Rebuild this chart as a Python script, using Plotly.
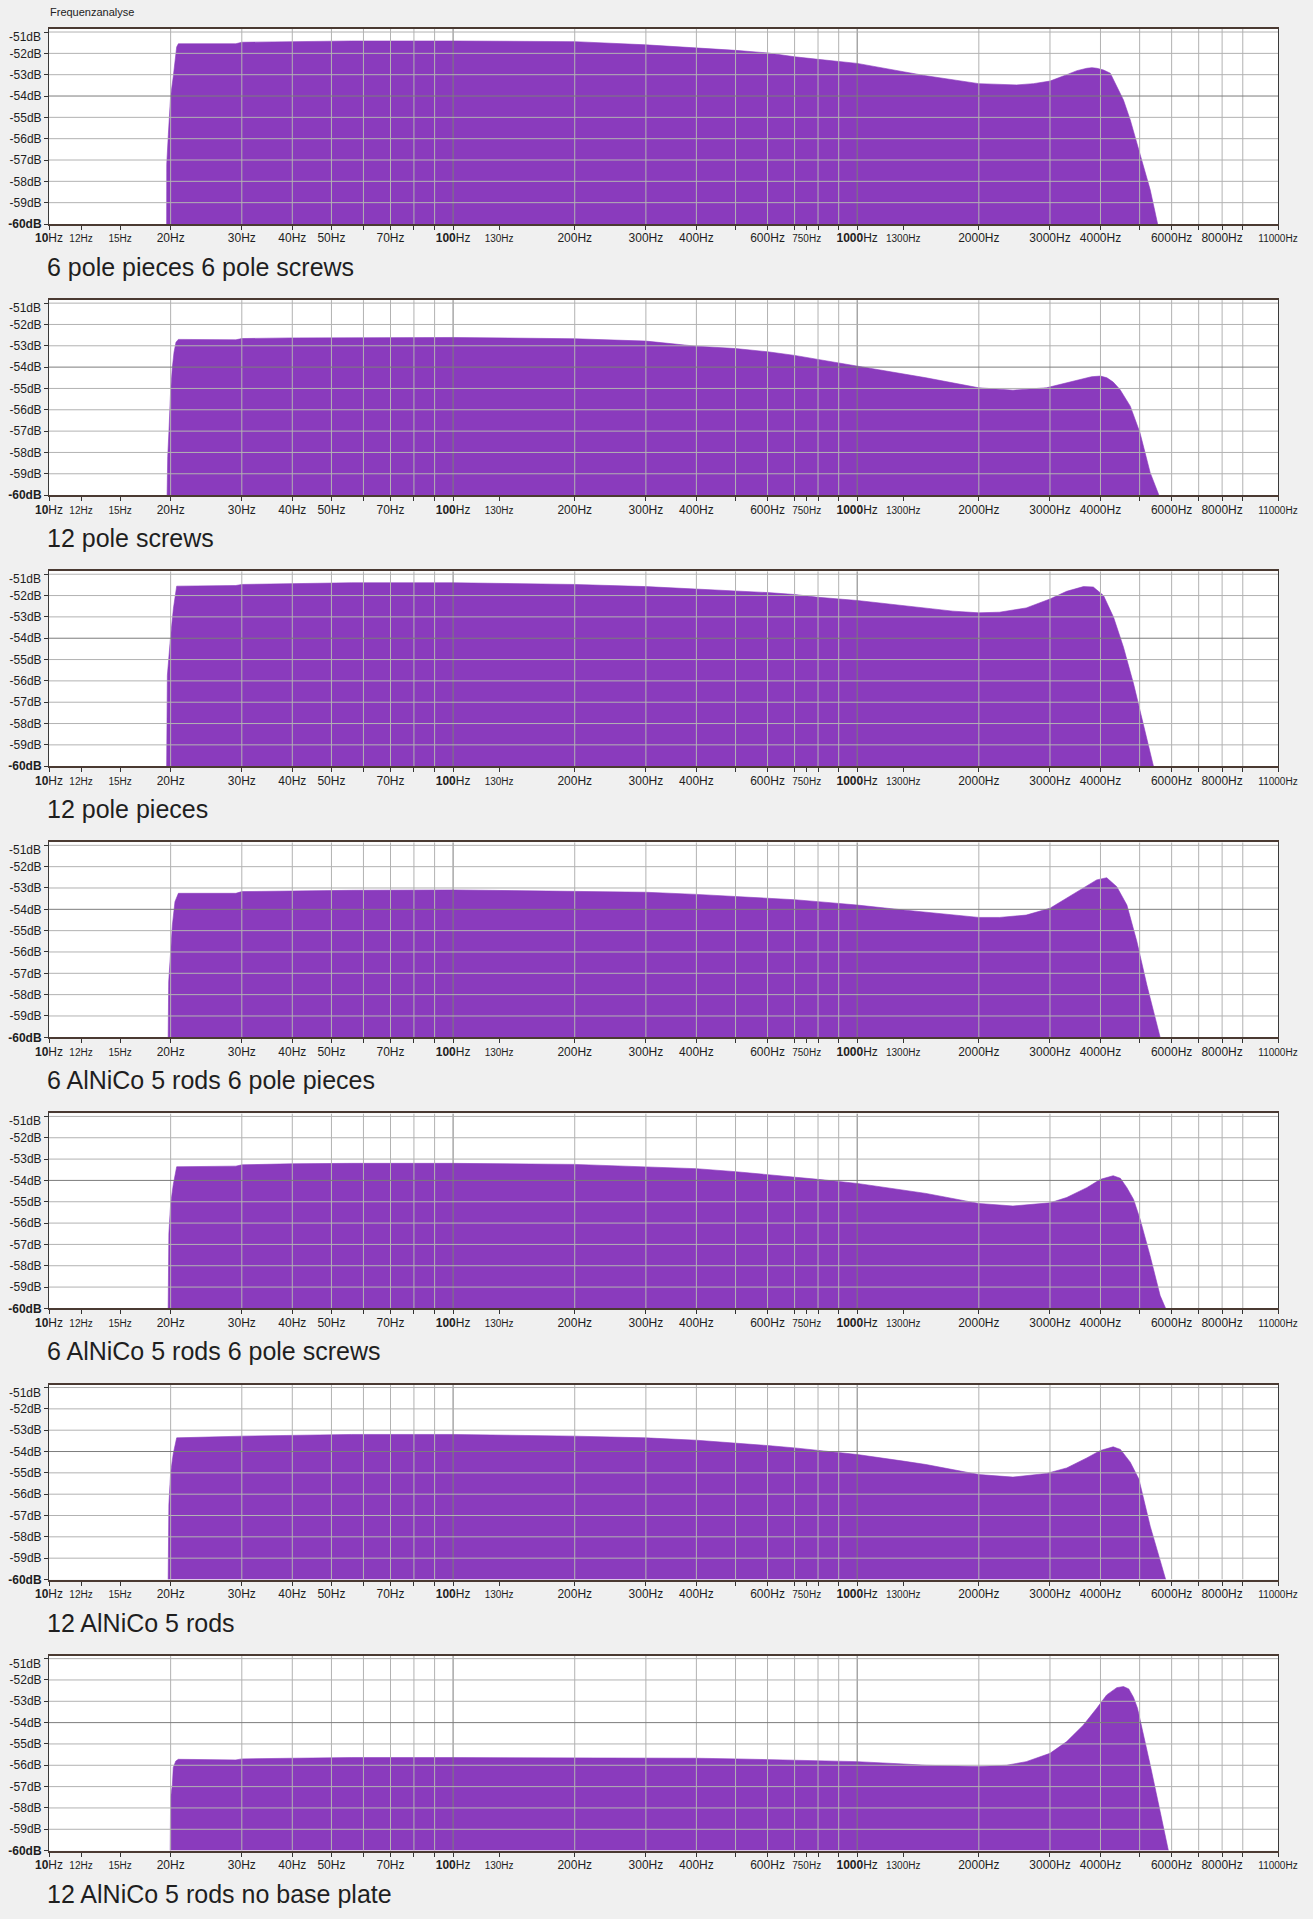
import plotly.graph_objects as go
import math

# ---------------- data ----------------
panel_titles = [
    "6 pole pieces 6 pole screws",
    "12 pole screws",
    "12 pole pieces",
    "6 AlNiCo 5 rods 6 pole pieces",
    "6 AlNiCo 5 rods 6 pole screws",
    "12 AlNiCo 5 rods",
    "12 AlNiCo 5 rods no base plate",
]

freq_p1 = [19.55, 19.56, 19.74, 20.0, 20.3, 20.5, 20.7, 20.9, 29, 30, 40, 56, 100, 200, 300, 400, 500, 600, 700,
           800, 1000, 1300, 1480, 2000, 2480, 2730, 3000, 3300, 3500, 3700, 3810, 3920, 4070, 4230, 4390, 4560,
           4740, 4920, 5110, 5310, 5540]
db_p1 = [-60, -57.2, -55.8, -54.0, -53.1, -52.4, -51.7, -51.55, -51.55, -51.48, -51.45, -51.42, -51.42, -51.45,
         -51.6, -51.73, -51.86, -51.98, -52.16, -52.28, -52.47, -52.86, -53.05, -53.42, -53.48, -53.42, -53.3,
         -53.0, -52.81, -52.7, -52.67, -52.7, -52.78, -52.93, -53.56, -54.19, -55.12, -56.22, -57.3, -58.4, -60]

freq_p2 = [19.6, 19.67, 19.82, 20.0, 20.2, 20.39, 20.62, 20.9, 29, 30, 40, 56, 100, 200, 300, 400, 500, 600, 700,
           800, 1000, 1300, 1480, 2000, 2430, 2940, 3420, 3800, 4000, 4150, 4300, 4470, 4740, 5010, 5310, 5580]
db_p2 = [-60, -58.2, -56.9, -55.1, -54.0, -53.3, -52.83, -52.7, -52.72, -52.66, -52.63, -52.61, -52.61, -52.67,
         -52.78, -53.02, -53.13, -53.28, -53.45, -53.64, -53.95, -54.3, -54.5, -54.97, -55.08, -54.97, -54.66,
         -54.45, -54.42, -54.5, -54.7, -55.05, -55.83, -57.08, -58.95, -60]

freq_p3 = [19.55, 19.63, 20.0, 20.32, 20.7, 29, 30, 40, 56, 100, 200, 300, 400, 500, 600, 700, 800, 1000, 1300,
           1480, 1725, 2000, 2250, 2620, 3000, 3300, 3630, 3840, 4070, 4310, 4560, 4830, 5110, 5410]
db_p3 = [-60, -55.75, -53.9, -52.6, -51.56, -51.53, -51.48, -51.45, -51.4, -51.4, -51.48, -51.58, -51.69, -51.77,
         -51.86, -51.95, -52.08, -52.23, -52.47, -52.6, -52.73, -52.81, -52.78, -52.58, -52.16, -51.8, -51.58,
         -51.6, -52.0, -53.02, -54.42, -56.14, -58.02, -60]

freq_p4 = [19.72, 19.78, 20.2, 20.5, 20.9, 29, 30, 40, 56, 100, 200, 300, 400, 500, 600, 700, 800, 1000, 1300,
           1480, 2000, 2250, 2620, 3000, 3300, 3630, 3915, 4145, 4390, 4650, 4920, 5210, 5620]
db_p4 = [-60, -57.4, -54.73, -53.64, -53.25, -53.25, -53.17, -53.14, -53.11, -53.09, -53.14, -53.2, -53.3, -53.39,
         -53.48, -53.55, -53.64, -53.8, -54.03, -54.14, -54.38, -54.38, -54.27, -53.95, -53.48, -52.98, -52.62,
         -52.52, -52.94, -53.8, -55.5, -57.55, -60]

freq_p5 = [19.72, 19.8, 20.0, 20.3, 20.7, 29, 30, 40, 56, 100, 200, 300, 400, 500, 600, 700, 800, 1000, 1300,
           1480, 2000, 2430, 3000, 3300, 3700, 4000, 4300, 4480, 4650, 4830, 5015, 5310, 5620, 5800]
db_p5 = [-60, -56.5, -55.1, -54.2, -53.36, -53.33, -53.27, -53.22, -53.2, -53.2, -53.25, -53.36, -53.45, -53.59,
         -53.72, -53.84, -53.95, -54.14, -54.45, -54.61, -55.08, -55.2, -55.05, -54.8, -54.34, -53.95, -53.78,
         -53.9, -54.34, -54.89, -55.83, -57.55, -59.4, -60]

freq_p6 = [19.72, 19.8, 20.0, 20.3, 20.7, 30, 56, 100, 200, 300, 400, 500, 600, 700, 800, 1000, 1300, 1480, 2000,
           2430, 2940, 3300, 3700, 4000, 4300, 4480, 4740, 4980, 5310, 5800]
db_p6 = [-60, -56.5, -55.0, -54.1, -53.36, -53.28, -53.2, -53.2, -53.28, -53.36, -53.47, -53.59, -53.72, -53.83,
         -53.94, -54.14, -54.45, -54.61, -55.08, -55.2, -55.03, -54.77, -54.3, -53.95, -53.78, -53.9, -54.5, -55.3,
         -57.5, -60]

freq_p7 = [19.95, 20.0, 20.2, 20.3, 20.6, 20.9, 29, 30, 40, 56, 100, 200, 300, 400, 500, 700, 1000, 1300, 1480,
           2000, 2340, 2620, 3000, 3300, 3630, 3915, 4145, 4390, 4560, 4700, 4830, 4940, 5050, 5310, 5620, 5890]
db_p7 = [-60, -57.5, -56.9, -56.1, -55.8, -55.72, -55.75, -55.7, -55.67, -55.64, -55.64, -55.64, -55.66, -55.67,
         -55.7, -55.75, -55.83, -55.94, -56.0, -56.06, -56.0, -55.83, -55.44, -54.89, -54.11, -53.33, -52.7,
         -52.36, -52.31, -52.42, -52.82, -53.33, -54.11, -55.98, -58.17, -60]

panel_freqs = [freq_p1, freq_p2, freq_p3, freq_p4, freq_p5, freq_p6, freq_p7]
panel_dbs = [db_p1, db_p2, db_p3, db_p4, db_p5, db_p6, db_p7]

grid_freqs = [20, 30, 40, 50, 60, 70, 80, 90, 200, 300, 400, 500, 600, 700, 800, 900,
              2000, 3000, 4000, 5000, 6000, 7000, 8000, 9000]
major_grid_freqs = [100, 1000]
tick_freqs = [10, 12, 15, 20, 30, 40, 50, 60, 70, 80, 90, 100, 130, 200, 300, 400, 500, 600, 700, 750,
              800, 900, 1000, 1300, 2000, 3000, 4000, 5000, 6000, 7000, 8000, 9000, 11000]
labelled_freqs = [10, 12, 15, 20, 30, 40, 50, 70, 100, 130, 200, 300, 400, 600, 750, 1000, 1300,
                  2000, 3000, 4000, 6000, 8000, 11000]
small_label_freqs = [12, 15, 130, 750, 1300, 11000]
bold_label_freqs = [10, 100, 1000]
db_ticks = [-60, -59, -58, -57, -56, -55, -54, -53, -52, -51]
db_major = [-54]
db_top_label = -51
f_min, f_max = 10, 11000

# ---------------- style / layout ----------------
W, H = 1313, 1919
PLOT_L, PLOT_R = 49, 1278
TOP0, BOT0, PITCH = 29, 224, 271.1
PX_PER_DB = 21.33
Y_TOP = -60 + (BOT0 - TOP0) / PX_PER_DB
TOP_LABEL_SHIFT_PX = 5
PURPLE = "#8a3bbd"
GRID = "#b2b2b2"
GRID_MAJOR = "#7c7c7c"
FONT = "Liberation Sans, Arial, sans-serif"
TEXT = "#1e1e1e"


def tick_text(f):
    if f not in labelled_freqs:
        return ""
    if f in bold_label_freqs:
        return f"<b>{f}</b>Hz"
    if f in small_label_freqs:
        return f'<span style="font-size:10px">{f}Hz</span>'
    return f"{f}Hz"


def db_text(d):
    if d == db_top_label:
        return ""
    if d == -60:
        return f"<b>{d}dB</b>"
    return f"{d}dB"


fig = go.Figure()

for i in range(7):
    xa = "x" if i == 0 else f"x{i+1}"
    ya = "y" if i == 0 else f"y{i+1}"
    # filled spectrum
    fig.add_trace(go.Scatter(x=panel_freqs[i], y=panel_dbs[i], mode="lines", fill="toself",
                             fillcolor=PURPLE, line=dict(color=PURPLE, width=0.6),
                             xaxis=xa, yaxis=ya, hoverinfo="skip"))
    # grid lines drawn over the fill
    for freqs, col in ((grid_freqs, GRID), (major_grid_freqs, GRID_MAJOR)):
        gx, gy = [], []
        for f in freqs:
            gx += [f, f, None]
            gy += [-60, Y_TOP, None]
        fig.add_trace(go.Scatter(x=gx, y=gy, mode="lines", line=dict(color=col, width=1),
                                 xaxis=xa, yaxis=ya, hoverinfo="skip"))
    for levels, col in (([d for d in db_ticks if d not in db_major and d != -60], GRID), (db_major, GRID_MAJOR)):
        hx, hy = [], []
        for d in levels:
            hx += [f_min, f_max, None]
            hy += [d, d, None]
        fig.add_trace(go.Scatter(x=hx, y=hy, mode="lines", line=dict(color=col, width=1),
                                 xaxis=xa, yaxis=ya, hoverinfo="skip"))

    top_px = TOP0 + PITCH * i
    bot_px = BOT0 + PITCH * i
    ydom = [1 - bot_px / H, 1 - top_px / H]
    xdom = [PLOT_L / W, PLOT_R / W]
    xkey = "xaxis" if i == 0 else f"xaxis{i+1}"
    ykey = "yaxis" if i == 0 else f"yaxis{i+1}"
    fig.update_layout(**{
        xkey: dict(domain=xdom, anchor=ya, type="log", automargin=False,
                   range=[math.log10(f_min), math.log10(f_max)],
                   showgrid=False, zeroline=False,
                   tickvals=tick_freqs, ticktext=[tick_text(f) for f in tick_freqs],
                   ticks="outside", ticklen=4, tickcolor="#333333", tickwidth=1,
                   ticklabelstandoff=-2,
                   showline=True, linecolor="#4a3a32", linewidth=2, mirror=True,
                   tickfont=dict(family=FONT, size=12, color=TEXT), tickangle=0,
                   fixedrange=True),
        ykey: dict(domain=ydom, anchor=xa, range=[-60, Y_TOP], automargin=False,
                   showgrid=False, zeroline=False,
                   tickvals=db_ticks, ticktext=[db_text(d) for d in db_ticks],
                   ticks="outside", ticklen=4, tickcolor="#333333", tickwidth=1,
                   showline=True, linecolor="#3a3a3a", linewidth=1, mirror=True,
                   tickfont=dict(family=FONT, size=12, color=TEXT),
                   fixedrange=True),
    })
    # top dB label is drawn a little lower, as in the original
    fig.add_annotation(text=f"{db_top_label}dB", xref="paper", yref=ya,
                       x=(PLOT_L - 6) / W, y=db_top_label - TOP_LABEL_SHIFT_PX / PX_PER_DB,
                       xanchor="right", yanchor="middle", showarrow=False,
                       font=dict(family=FONT, size=12, color=TEXT))
    fig.add_annotation(text=panel_titles[i], xref="paper", yref="paper",
                       x=45 / W, y=1 - (267 + PITCH * i) / H, xanchor="left", yanchor="middle",
                       showarrow=False, font=dict(family=FONT, size=25, color="#1f1f1f"))

fig.add_annotation(text="Frequenzanalyse", xref="paper", yref="paper", x=48 / W, y=1 - 12 / H,
                   xanchor="left", yanchor="middle", showarrow=False,
                   font=dict(family=FONT, size=11, color="#222222"))

fig.update_layout(width=W, height=H, margin=dict(l=0, r=0, t=0, b=0, autoexpand=False),
                  paper_bgcolor="#f0f0f0", plot_bgcolor="#ffffff", showlegend=False)

fig.write_html("out.html", config={"displayModeBar": False},
               post_script="document.body.style.margin='0px';")
